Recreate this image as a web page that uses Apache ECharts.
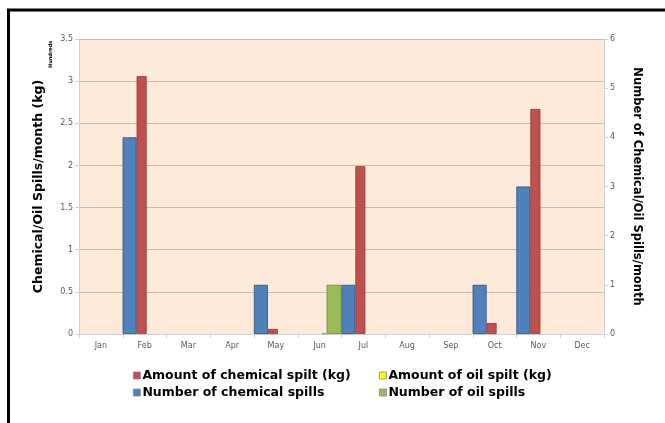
<!DOCTYPE html>
<html>
<head>
<meta charset="utf-8">
<script src="https://cdn.jsdelivr.net/npm/echarts@6/dist/echarts.min.js"></script>
<style>
  html, body { margin: 0; padding: 0; background: #fff; }
  #chart { width: 665px; height: 423px; }
</style>
</head>
<body>
<div id="chart"></div>
<script>
// months on the x axis
const months = ['Jan', 'Feb', 'Mar', 'Apr', 'May', 'Jun', 'Jul', 'Aug', 'Sep', 'Oct', 'Nov', 'Dec']

// left axis, in hundreds of kg
const chemicalAmount = [null, 3.06, null, null, 0.06, null, 1.99, null, null, 0.13, 2.67, null]
const oilAmount = [null, null, null, null, null, 0.01, null, null, null, null, null, null]

// right axis, counts
const chemicalSpills = [null, 4, null, null, 1, null, 1, null, null, 1, 3, null]
const oilSpills = [null, null, null, null, null, 1, null, null, null, null, null, null]

const FONT = 'DejaVu Sans'
const labelStyle = { fontFamily: FONT, fontSize: 8, color: '#595959' }

const chart = echarts.init(document.getElementById('chart'))

const legendItem = (name, left, top) => ({
    data: [name],
    left: left,
    top: top,
    itemWidth: 7,
    itemHeight: 7,
    icon: 'rect',
    itemGap: 0,
    padding: 0,
    itemStyle: { borderColor: '#888', borderWidth: 0.8 },
    textStyle: { fontFamily: FONT, fontSize: 12.5, fontWeight: 'bold', color: '#000', padding: [0, 0, 0, -3] }
})

chart.setOption({
    animation: false,
    backgroundColor: '#fff',
    grid: {
        left: 79, right: 61, top: 39, bottom: 89,
        show: true, backgroundColor: '#fdeada', borderWidth: 0
    },
    legend: [
        legendItem('Amount of chemical spilt (kg)', 133, 369),
        legendItem('Amount of oil spilt (kg)', 379, 369),
        legendItem('Number of chemical spills', 133, 386),
        legendItem('Number of oil spills', 379, 386)
    ],
    xAxis: {
        type: 'category',
        data: months,
        axisLine: { lineStyle: { color: '#d0d0d0' } },
        axisTick: { show: true, length: 4, lineStyle: { color: '#d0d0d0' } },
        axisLabel: Object.assign({ margin: 8 }, labelStyle)
    },
    yAxis: [
        {
            type: 'value', min: 0, max: 3.5, interval: 0.5,
            name: 'Chemical/Oil Spills/month (kg)',
            nameLocation: 'middle', nameGap: 34,
            nameTextStyle: { fontFamily: FONT, fontSize: 12.5, fontWeight: 'bold', color: '#000' },
            axisLine: { show: true, lineStyle: { color: '#d0d0d0' } },
            axisTick: { show: true, length: 4, lineStyle: { color: '#d0d0d0' } },
            axisLabel: Object.assign({ margin: 6 }, labelStyle),
            splitLine: { lineStyle: { color: '#c9b9aa' } }
        },
        {
            type: 'value', min: 0, max: 6, interval: 1,
            name: 'Number of Chemical/Oil Spills/month',
            nameLocation: 'middle', nameGap: 27, nameRotate: -90,
            nameTextStyle: { fontFamily: FONT, fontSize: 11.5, fontWeight: 'bold', color: '#000' },
            axisLine: { show: true, lineStyle: { color: '#d0d0d0' } },
            axisTick: { show: true, length: 4, lineStyle: { color: '#d0d0d0' } },
            axisLabel: Object.assign({ margin: 6 }, labelStyle),
            splitLine: { show: false }
        }
    ],
    series: [
        {
            name: 'Number of chemical spills', type: 'bar', yAxisIndex: 1,
            data: chemicalSpills, barWidth: 14, barGap: '0%',
            itemStyle: { color: '#4f81bd', borderColor: '#2c4d75', borderWidth: 0.8 }
        },
        {
            name: 'Amount of chemical spilt (kg)', type: 'bar', yAxisIndex: 0,
            data: chemicalAmount, barWidth: 10, barGap: '0%',
            itemStyle: { color: '#c0504d', borderColor: '#8c3836', borderWidth: 0.8 }
        },
        {
            name: 'Amount of oil spilt (kg)', type: 'bar', yAxisIndex: 0,
            data: oilAmount, barWidth: 5, barGap: '0%',
            itemStyle: { color: '#ffff00', borderColor: '#9a9a2a', borderWidth: 0.8 }
        },
        {
            name: 'Number of oil spills', type: 'bar', yAxisIndex: 1,
            data: oilSpills, barWidth: 15, barGap: '0%',
            itemStyle: { color: '#9bbb59', borderColor: '#6b8a34', borderWidth: 0.8 }
        }
    ],
    graphic: [
        { type: 'line', shape: { x1: 7, y1: 10, x2: 665, y2: 10 }, style: { stroke: '#000', lineWidth: 3 } },
        { type: 'line', shape: { x1: 8.5, y1: 9, x2: 8.5, y2: 423 }, style: { stroke: '#000', lineWidth: 3 } },
        {
            type: 'text', x: 48, y: 68, rotation: Math.PI / 2,
            style: { text: 'Hundreds', fontFamily: FONT, fontSize: 5, fontWeight: 'bold', fill: '#000' }
        }
    ]
})
</script>
</body>
</html>
